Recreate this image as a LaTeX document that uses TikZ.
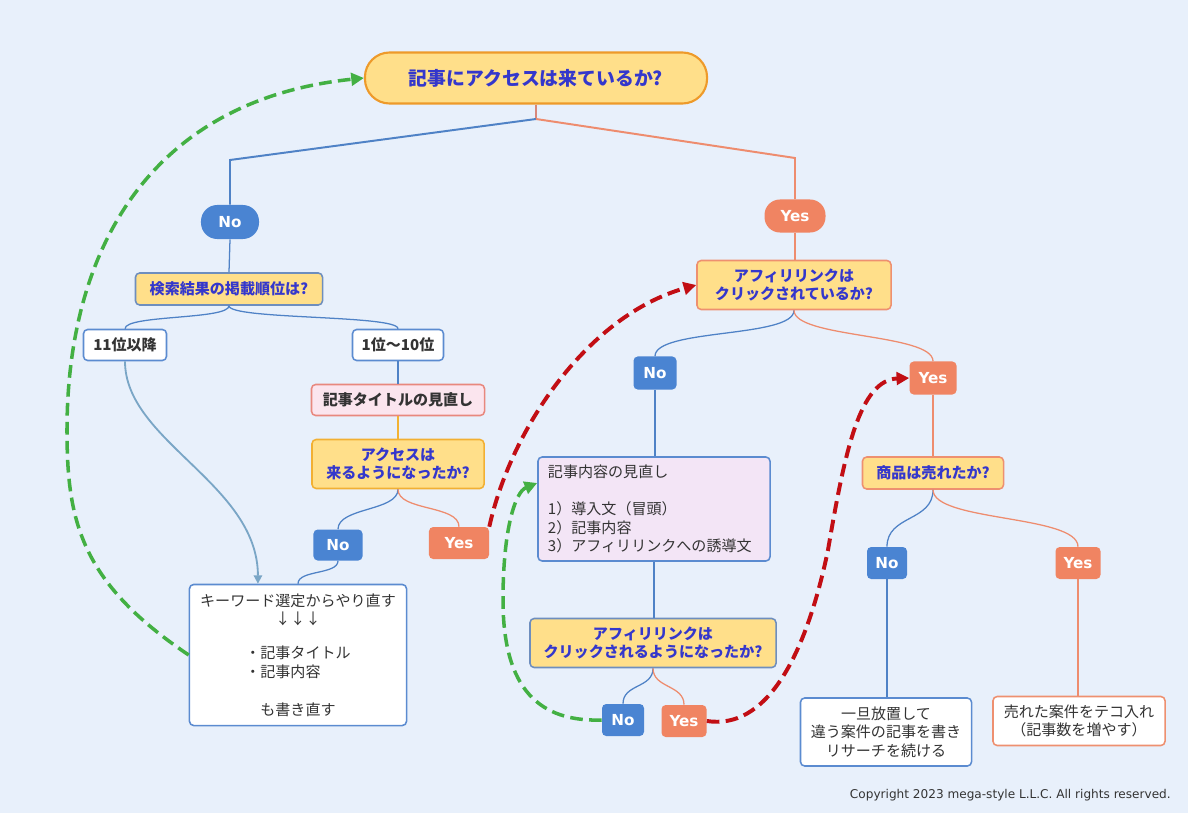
\documentclass[tikz,border=0pt]{standalone}
\usepackage{fontspec}
\setmainfont{Noto Sans CJK JP}
\newfontfamily\labelfont{DejaVu Sans}
\usetikzlibrary{calc, arrows.meta}

\definecolor{bgblue}{HTML}{E8F0FB}
\definecolor{qfill}{HTML}{FFDF8A}
\definecolor{titleedge}{HTML}{EE9A2A}
\definecolor{goldedge}{HTML}{F2B033}
\definecolor{qtext}{HTML}{3437CC}
\definecolor{bodytext}{HTML}{333333}
\definecolor{noblue}{HTML}{4A84D2}
\definecolor{yesorange}{HTML}{F08462}
\definecolor{wireblue}{HTML}{4F82C6}
\definecolor{wireorange}{HTML}{EE8C6E}
\definecolor{stubbrown}{HTML}{D8877A}
\definecolor{edgeblue}{HTML}{5B8BD0}
\definecolor{edgegray}{HTML}{6E8EBE}
\definecolor{edgesalmon}{HTML}{EE9070}
\definecolor{pinkfill}{HTML}{FBE5EE}
\definecolor{pinkedge}{HTML}{E8887E}
\definecolor{lilacfill}{HTML}{F3E5F6}
\definecolor{goldwire}{HTML}{F2B233}
\definecolor{steelwire}{HTML}{7AA6C6}
\definecolor{loopgreen}{HTML}{43B043}
\definecolor{loopred}{HTML}{C20E14}

\newcommand{\qsize}{\fontsize{10.7}{13.2}\selectfont}
\newcommand{\titlesize}{\fontsize{13.4}{16}\selectfont}

\begin{document}
\begin{tikzpicture}[x=0.025cm, y=-0.025cm,
    question/.style={draw=edgesalmon, fill=qfill, line width=1.1pt, rounded corners=3pt, text=qtext, font=\qsize\bfseries, align=center, inner sep=0pt},
    answer/.style={draw=edgeblue, fill=white, line width=1.1pt, rounded corners=3pt, text=bodytext, font=\qsize, align=center, inner sep=0pt},
    nobox/.style={fill=noblue, rounded corners=3pt, text=white, font=\labelfont\bfseries\fontsize{10.8}{12}\selectfont, inner sep=0pt},
    yesbox/.style={nobox, fill=yesorange},
    bluewire/.style={draw=wireblue, line width=0.9pt},
    orangewire/.style={draw=wireorange, line width=0.9pt},
    greenloop/.style={draw=loopgreen, line width=2.5pt, dash pattern=on 9pt off 4.5pt, -{Triangle[length=9pt,width=9pt]}},
    redloop/.style={greenloop, draw=loopred, line width=2.8pt}]

    \fill[bgblue] (0,0) rectangle (1188,813);
    \useasboundingbox (0,0) rectangle (1188,813);

    % Draw nodes
    \node[question, draw=titleedge, line width=1.5pt, rounded corners=17.5pt, minimum width=8.55cm, minimum height=1.275cm, font=\titlesize\bfseries] (top) at (536,78) {記事にアクセスは来ているか?};
    \node[nobox, rounded corners=11.5pt, minimum width=1.45cm, minimum height=0.85cm] (no1) at (230,222) {No};
    \node[yesbox, rounded corners=11pt, minimum width=1.525cm, minimum height=0.825cm] (yes1) at (795,216) {Yes};

    % left side
    \node[question, draw=edgegray, minimum width=4.675cm, minimum height=0.8cm] (rank) at (229,289) {検索結果の掲載順位は?};
    \node[answer, font=\qsize\bfseries, minimum width=2.075cm, minimum height=0.775cm] (low) at (125,345) {11位以降};
    \node[answer, font=\qsize\bfseries, minimum width=2.275cm, minimum height=0.775cm] (high) at (398,345) {1位〜10位};
    \node[answer, draw=pinkedge, fill=pinkfill, font=\qsize\bfseries, minimum width=4.325cm, minimum height=0.775cm] (retitle) at (398,400) {記事タイトルの見直し};
    \node[question, draw=goldedge, minimum width=4.3cm, minimum height=1.225cm] (accq) at (398,464) {アクセスは\\来るようになったか?};
    \node[nobox, minimum width=1.225cm, minimum height=0.775cm] (no2) at (338,545) {No};
    \node[yesbox, minimum width=1.5cm, minimum height=0.8cm] (yes2) at (459,543) {Yes};
    \node[answer, minimum width=5.425cm, minimum height=3.525cm] (redo) at (298,655) {キーワード選定からやり直す\\↓↓↓\\[13pt]\begin{tabular}{@{}l@{}}・記事タイトル\\・記事内容\end{tabular}\\[13pt]も書き直す};

    % right side
    \node[question, minimum width=4.85cm, minimum height=1.225cm] (clickq) at (794,285) {アフィリリンクは\\クリックされているか?};
    \node[nobox, minimum width=1.075cm, minimum height=0.825cm] (no3) at (655,373) {No};
    \node[yesbox, minimum width=1.175cm, minimum height=0.825cm] (yes3) at (933,378) {Yes};
    \node[answer, fill=lilacfill, align=left, text width=5.3cm, inner xsep=0.25cm, minimum height=2.6cm] (content) at (654,509) {記事内容の見直し\\[13.2pt]1）導入文（冒頭）\\2）記事内容\\3）アフィリリンクへの誘導文};
    \node[question, draw=edgegray, minimum width=6.15cm, minimum height=1.225cm] (clickq2) at (653,643) {アフィリリンクは\\クリックされるようになったか?};
    \node[nobox, minimum width=1.05cm, minimum height=0.8cm] (no4) at (623,720) {No};
    \node[yesbox, minimum width=1.125cm, minimum height=0.8cm] (yes4) at (684,721) {Yes};
    \node[question, minimum width=3.525cm, minimum height=0.8cm] (soldq) at (933,473) {商品は売れたか?};
    \node[nobox, minimum width=1.0cm, minimum height=0.8cm] (no5) at (887,563) {No};
    \node[yesbox, minimum width=1.125cm, minimum height=0.8cm] (yes5) at (1078,563) {Yes};
    \node[answer, minimum width=4.275cm, minimum height=1.7cm] (park) at (886,732) {一旦放置して\\違う案件の記事を書き\\リサーチを続ける};
    \node[answer, draw=edgesalmon, minimum width=4.3cm, minimum height=1.225cm] (boost) at (1079,721) {売れた案件をテコ入れ\\（記事数を増やす）};

    \node[anchor=east, inner sep=0pt, text=bodytext, font=\labelfont\fontsize{8.6}{10}\selectfont] (copyright) at (1171,795) {Copyright 2023 mega-style L.L.C. All rights reserved.};

    % Draw connectors
    \coordinate (split) at (536,119);
    \coordinate (lbend) at (230,160);
    \coordinate (rbend) at (795,158);
    \draw[draw=stubbrown, line width=1.4pt] (top.south) -- (split);
    \draw[bluewire, line width=1.4pt] (split) -- (lbend) -- (no1.north);
    \draw[orangewire, line width=1.4pt] (split) -- (rbend) -- (yes1.north);

    \draw[bluewire] (no1.south) -- (rank.north);
    \draw[bluewire] (rank.south) .. controls +(0,14) and +(0,-14) .. (low.north);
    \draw[bluewire] (rank.south) .. controls +(0,14) and +(0,-14) .. (high.north);
    \draw[bluewire] (high.south) -- (retitle.north);
    \draw[draw=goldwire, line width=0.9pt] (retitle.south) -- (accq.north);
    \draw[bluewire] (accq.south) .. controls +(0,22) and +(0,-22) .. (no2.north);
    \draw[orangewire] (accq.south) .. controls +(0,22) and +(0,-22) .. (yes2.north);
    \draw[bluewire] (no2.south) .. controls +(0,14) and +(0,-14) .. (redo.north);
    \draw[draw=steelwire, line width=1.3pt, -{Triangle[length=6pt,width=6pt]}] (low.south) .. controls +(0,80) and +(0,-100) .. ([xshift=-28.5pt]redo.north);

    \draw[orangewire] (yes1.south) -- (yes1.south |- clickq.north);
    \draw[bluewire] (clickq.south) .. controls +(0,28) and +(0,-28) .. (no3.north);
    \draw[orangewire] (clickq.south) .. controls +(0,28) and +(0,-28) .. (yes3.north);
    \draw[bluewire] (no3.south) -- (no3.south |- content.north);
    \draw[bluewire] (content.south) -- (content.south |- clickq2.north);
    \draw[bluewire] (clickq2.south) .. controls +(0,20) and +(0,-20) .. (no4.north);
    \draw[orangewire] (clickq2.south) .. controls +(0,20) and +(0,-20) .. (yes4.north);
    \draw[orangewire] (yes3.south) -- (soldq.north);
    \draw[bluewire] (soldq.south) .. controls +(0,32) and +(0,-32) .. (no5.north);
    \draw[orangewire] (soldq.south) .. controls +(0,32) and +(0,-32) .. (yes5.north);
    \draw[bluewire] (no5.south) -- (no5.south |- park.north);
    \draw[orangewire] (yes5.south) -- (yes5.south |- boost.north);

    % loops back
    \draw[greenloop] (redo.west) .. controls (80,582) and (67,520) .. (67,430) .. controls (67,250) and (150,100) .. (top.west);
    \draw[redloop] (yes2.north east) .. controls (512,425) and (590,315) .. (clickq.west);
    \draw[greenloop] (no4.west) .. controls (540,722) and (503,690) .. (503,600) .. controls (503,530) and (515,492) .. ([yshift=18.5pt]content.west);
    \draw[redloop] (yes4.east) .. controls (765,730) and (805,660) .. (828,550) .. controls (845,450) and (860,380) .. (yes3.west);

\end{tikzpicture}
\end{document}
